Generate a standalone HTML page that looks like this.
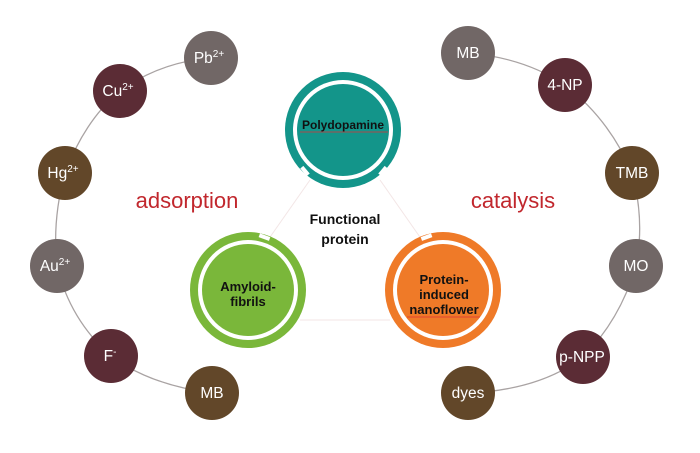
<!DOCTYPE html>
<html><head><meta charset="utf-8"><style>
html,body{margin:0;padding:0;background:#fff;}
svg{display:block;font-family:"Liberation Sans",Arial,sans-serif;}
</style></head><body>
<svg width="700" height="453" viewBox="0 0 700 453" xmlns="http://www.w3.org/2000/svg">
<g fill="none" stroke="#a9a3a3" stroke-width="1.3">
<path d="M212 393 Q150 385 111 356 Q70 320 57 266 Q52 220 65 173 Q85 120 120 91 Q160 62 211 58"/>
<path d="M468 53 Q525 58 565 85 Q610 120 632 173 Q645 220 636 266 Q620 320 583 357 Q540 390 468 393"/>
</g>
<g stroke="#f3e6e6" stroke-width="1" fill="none">
<line x1="310" y1="180" x2="268" y2="240"/>
<line x1="380" y1="180" x2="422" y2="240"/>
<line x1="300" y1="320" x2="390" y2="320"/>
</g>
<g font-size="15.5" fill="#fff" text-anchor="middle">
<circle cx="211" cy="58" r="27" fill="#716766"/><text x="209" y="63">Pb<tspan font-size="10" dy="-6">2+</tspan></text>
<circle cx="120" cy="91" r="27" fill="#5b2c35"/><text x="118" y="96">Cu<tspan font-size="10" dy="-6">2+</tspan></text>
<circle cx="65" cy="173" r="27" fill="#624729"/><text x="63" y="178">Hg<tspan font-size="10" dy="-6">2+</tspan></text>
<circle cx="57" cy="266" r="27" fill="#716766"/><text x="55" y="271">Au<tspan font-size="10" dy="-6">2+</tspan></text>
<circle cx="111" cy="356" r="27" fill="#5b2c35"/><text x="110" y="361">F<tspan font-size="10" dy="-6">-</tspan></text>
<circle cx="212" cy="393" r="27" fill="#624729"/><text x="212" y="398">MB</text>
<circle cx="468" cy="53" r="27" fill="#716766"/><text x="468" y="58">MB</text>
<circle cx="565" cy="85" r="27" fill="#5b2c35"/><text x="565" y="90">4-NP</text>
<circle cx="632" cy="173" r="27" fill="#624729"/><text x="632" y="178">TMB</text>
<circle cx="636" cy="266" r="27" fill="#716766"/><text x="636" y="271">MO</text>
<circle cx="583" cy="357" r="27" fill="#5b2c35"/><text x="582" y="362">p-NPP</text>
<circle cx="468" cy="393" r="27" fill="#624729"/><text x="468" y="398">dyes</text>
</g>
<g font-size="22" fill="#c1272d" text-anchor="middle">
<text x="187" y="208">adsorption</text>
<text x="513" y="208">catalysis</text>
</g>
<g font-weight="bold" font-size="14" fill="#111" text-anchor="middle">
<text x="345" y="224">Functional</text>
<text x="345" y="244">protein</text>
</g>
<g>
<circle cx="343" cy="130" r="58" fill="#13958a"/>
<circle cx="343" cy="130" r="50" fill="#fff"/>
<circle cx="343" cy="130" r="46" fill="#13958a"/>
<rect x="303" y="166" width="4" height="10" fill="#fff" transform="rotate(-40 305 171)"/>
<rect x="381" y="166" width="4" height="10" fill="#fff" transform="rotate(40 383 171)"/>
<text x="343" y="129" font-size="12" font-weight="bold" text-anchor="middle" fill="#111">Polydopamine</text>
<line x1="300" y1="132" x2="388" y2="132" stroke="#d33" stroke-width="0.8"/>

<circle cx="248" cy="290" r="58" fill="#7ab73a"/>
<circle cx="248" cy="290" r="50" fill="#fff"/>
<circle cx="248" cy="290" r="46" fill="#7ab73a"/>
<rect x="262" y="232" width="4" height="11" fill="#fff" transform="rotate(-70 264 237)"/>
<text x="248" y="291" font-size="13" font-weight="bold" text-anchor="middle" fill="#111">Amyloid-</text>
<text x="248" y="306" font-size="13" font-weight="bold" text-anchor="middle" fill="#111">fibrils</text>

<circle cx="443" cy="290" r="58" fill="#ef7a28"/>
<circle cx="443" cy="290" r="50" fill="#fff"/>
<circle cx="443" cy="290" r="46" fill="#ef7a28"/>
<rect x="425" y="232" width="4" height="11" fill="#fff" transform="rotate(70 427 237)"/>
<text x="444" y="284" font-size="13" font-weight="bold" text-anchor="middle" fill="#111">Protein-</text>
<text x="444" y="299" font-size="13" font-weight="bold" text-anchor="middle" fill="#111">induced</text>
<text x="444" y="314" font-size="13" font-weight="bold" text-anchor="middle" fill="#111">nanoflower</text>
<line x1="407" y1="317" x2="480" y2="317" stroke="#d33" stroke-width="0.8"/>
</g>
</svg>
</body></html>
